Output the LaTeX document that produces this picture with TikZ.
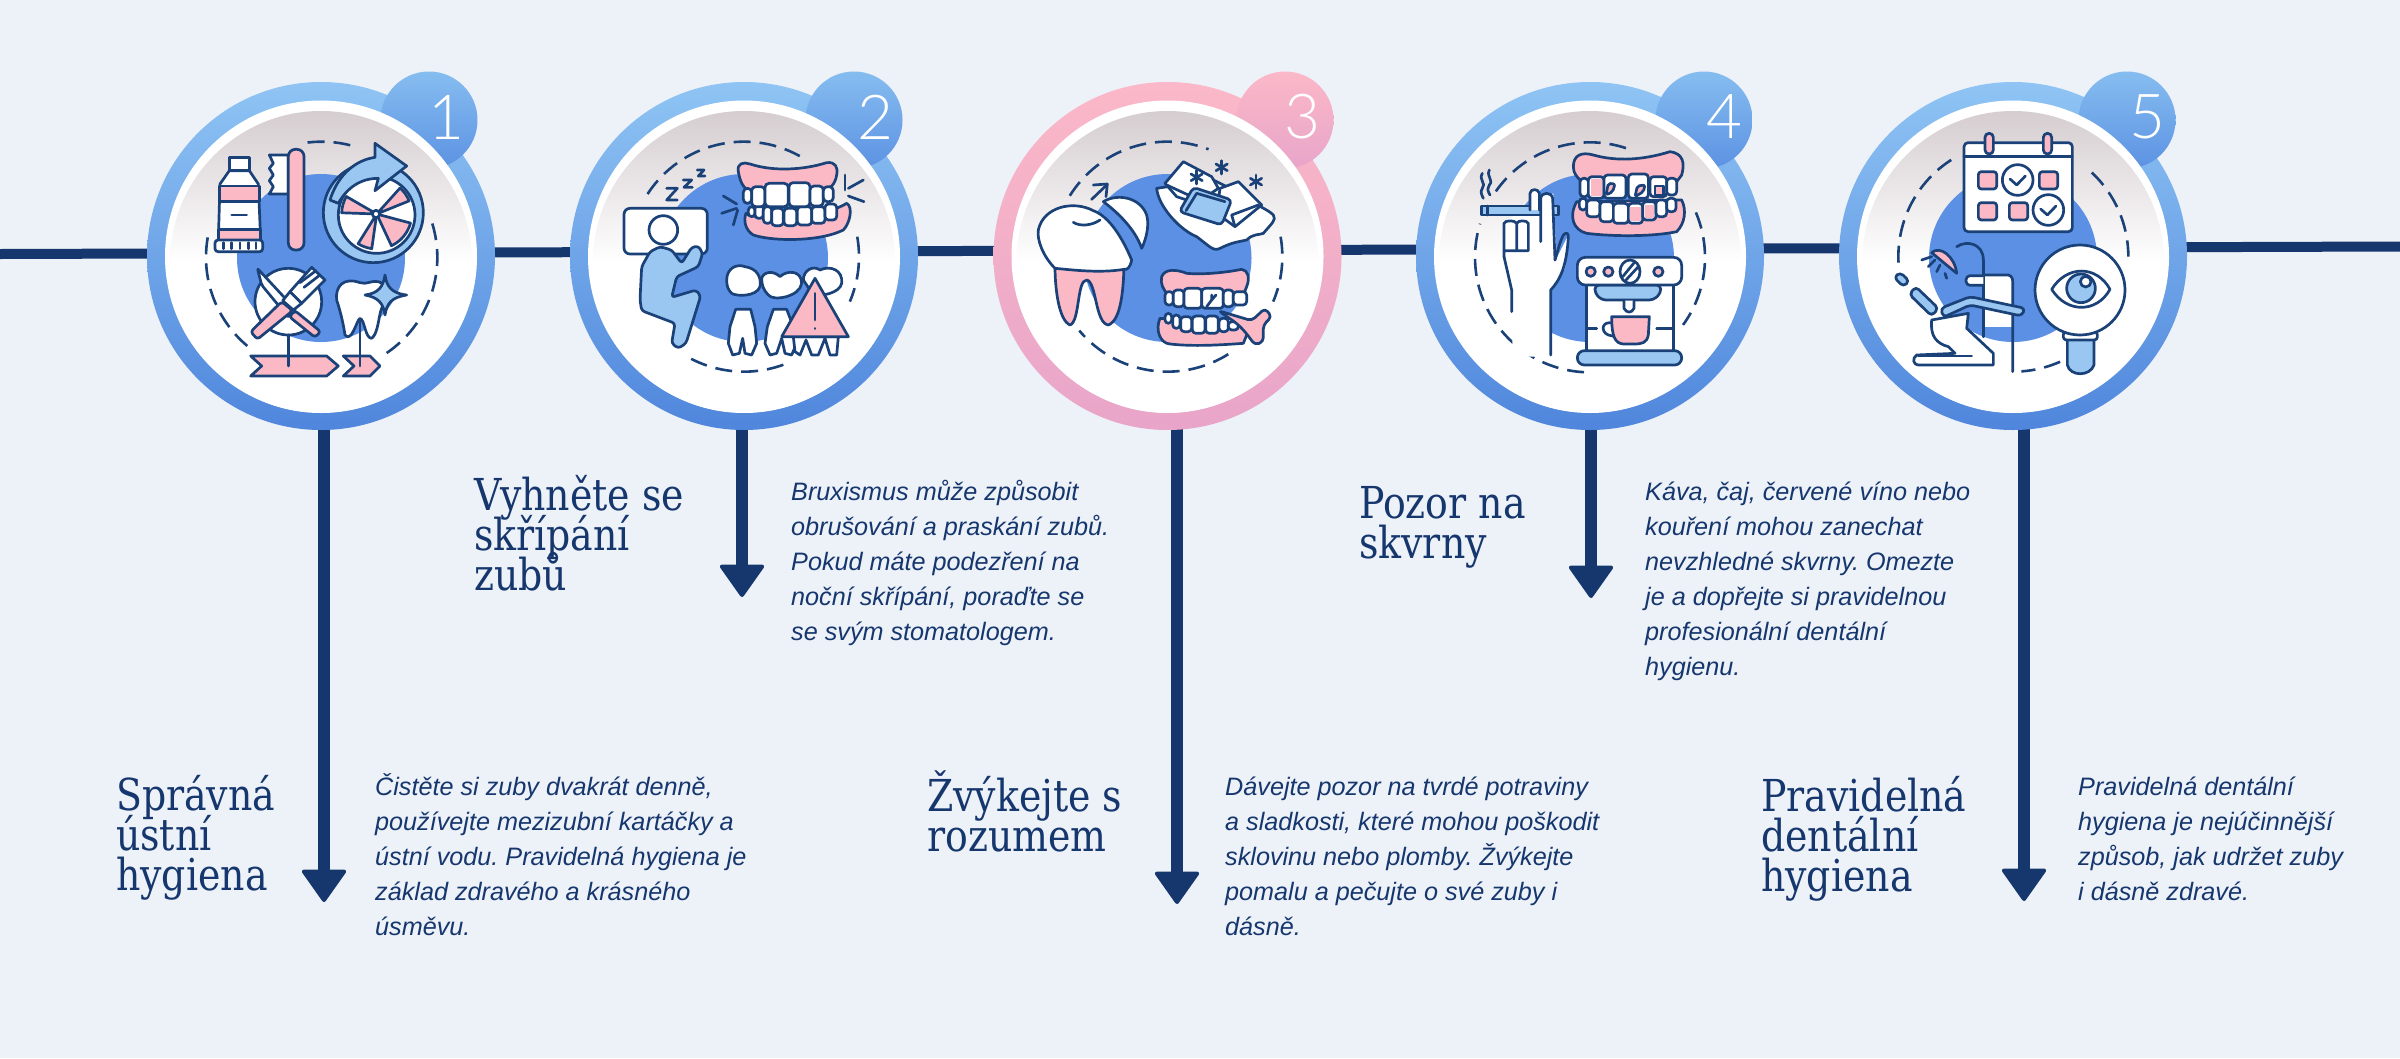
\documentclass[tikz,border=0pt]{standalone}
\usepackage{fontspec}
\usetikzlibrary{arrows.meta}
\newfontfamily\hdfont[FakeStretch=0.86]{DejaVu Serif}
\newfontfamily\bdfont{Liberation Sans}
\newfontfamily\numfont{Lato Light}
\lineskiplimit=-100pt
\definecolor{bg}{HTML}{EDF1F8}
\definecolor{navy}{HTML}{16376E}
\definecolor{ink}{HTML}{1B4278}
\definecolor{pnk}{HTML}{FBB9C5}
\definecolor{lbl}{HTML}{9AC7F2}
\definecolor{dsc}{HTML}{5B90E4}
\definecolor{rbtop}{HTML}{8FC4F4}
\definecolor{rbbot}{HTML}{4F86DC}
\definecolor{rptop}{HTML}{FBB8C8}
\definecolor{rpbot}{HTML}{E8A5C9}
\definecolor{bbtop}{HTML}{86BDF0}
\definecolor{bbbot}{HTML}{5C92E2}
\definecolor{grtop}{HTML}{D5CDD0}
\tikzset{
 ic/.style={draw=ink,line width=2.7pt,line join=round,line cap=round},
 wh/.style={ic,fill=white},
 pk/.style={ic,fill=pnk},
 lb/.style={ic,fill=lbl},
 dashring/.style={draw=ink,line width=2.6pt,dash pattern=on 17pt off 9pt},
 ringb/.style={circle,inner sep=0,minimum size=348pt,top color=rbtop,bottom color=rbbot,draw=none},
 ringp/.style={circle,inner sep=0,minimum size=348pt,top color=rptop,bottom color=rpbot,draw=none},
 badgeb/.style={circle,inner sep=0,minimum size=97pt,top color=bbtop,bottom color=bbbot,draw=none},
 badgep/.style={circle,inner sep=0,minimum size=97pt,top color=rptop,bottom color=rpbot,draw=none},
 inner/.style={circle,inner sep=0,minimum size=312pt,fill=white},
 innergr/.style={circle,inner sep=0,minimum size=302pt,top color=grtop,bottom color=white,middle color=white,draw=none},
 disc/.style={circle,inner sep=0,minimum size=168pt,fill=dsc},
 num/.style={text=white,font=\numfont\fontsize{62}{62}\selectfont,inner sep=0},
 hd/.style={text=navy,anchor=base west,align=left,inner sep=0,font=\hdfont\fontsize{44}{40}\selectfont},
 bd/.style={text=navy,anchor=base west,align=left,inner sep=0,font=\bdfont\itshape\frenchspacing\fontsize{25.2}{35}\selectfont},
 link/.style={draw=navy,line width=10pt},
 drop/.style={draw=navy,line width=12pt,-{Triangle[length=34pt,width=47pt,line width=4pt,round]}},
 crop/.style={x=0.33333pt,y=-0.33333pt},
}
\newcommand{\darc}[4]{\draw[dashring] (#1) ++(#2:#4) arc[start angle=#2,end angle=#3,radius=#4];}
\begin{document}
\begin{tikzpicture}[x=1pt,y=-1pt]
\useasboundingbox (0,0) rectangle (2400,1058);
\fill[bg] (0,0) rectangle (2400,1058);
% connectors
\coordinate (ll) at (0,254);
\coordinate (lr) at (2400,246.5);
\draw[link] (ll) -- (lr);
\foreach \i/\x/\t in {1/324/902,2/742/597,3/1177/904,4/1591/598,5/2024/901}{
 \coordinate (s\i) at (\x,400);
 \coordinate (t\i) at (\x,\t);
 \draw[drop] (s\i) -- (t\i);
}
% rings
\node[ringb] (c1) at (321,256) {};
\node[ringb] (c2) at (744,256) {};
\node[ringp] (c3) at (1167.5,256) {};
\node[ringb] (c4) at (1590,256) {};
\node[ringb] (c5) at (2013,256) {};
\node[badgeb] (d1) at (429,120) {};
\node[badgeb] (d2) at (854,120) {};
\node[badgep] (d3) at (1285,120) {};
\node[badgeb] (d4) at (1704,120) {};
\node[badgeb] (d5) at (2127,120) {};
\foreach \i/\x in {1/321,2/744,3/1167.5,4/1590,5/2013}{
 \node[inner] (w\i) at (\x,256.5) {};
 \node[innergr] (g\i) at (\x,262) {};
 \node[disc] (e\i) at (\x,258) {};
}
\node[num] (n1) at (446,117) {1};
\node[num] (n2) at (875,117) {2};
\node[num] (n3) at (1302,117) {3};
\node[num] (n4) at (1724,117) {4};
\node[num] (n5) at (2147,117) {5};

% ---------- icon 1
\begin{scope}[shift={(130,60)},crop]
\darc{575,592}{-97}{-75}{347}
\darc{575,592}{-17}{56}{347}
\darc{575,592}{130}{190}{347}
% tube
\draw[wh] (298,292) rectangle (358,332);
\draw[wh] (298,332) -- (270,372) -- (265,540) -- (392,540) -- (385,372) -- (358,332) -- cycle;
\draw[pk] (268,378) rectangle (388,425);
\draw[pk] (266,508) rectangle (391,540);
\draw[ic] (305,465) -- (350,465);
\draw[wh,rounded corners=3pt] (255,540) rectangle (398,575);
\foreach \x in {280,305,330,355,378}{\draw[ic] (\x,548) -- (\x,566);}
% brush
\draw[wh] (475,285) -- (418,285) -- (430,310) -- (418,325) -- (430,345) -- (418,362) -- (430,380) -- (418,402) -- (475,402) -- cycle;
\draw[pk,rounded corners=7pt] (475,268) rectangle (522,570);
% wheel
\draw[lb] (730,458) circle[radius=150];
\draw[wh] (740,465) circle[radius=115];
\foreach \a/\b in {-178/-150,-48/-22,15/65,98/122}{
 \draw[pk] (740,462) -- ++(\a:105) arc[start angle=\a,end angle=\b,radius=105] -- cycle;
}
\draw[wh] (738,462) circle[radius=11];
\draw[lb] (600,420) .. controls (625,340) and (680,300) .. (735,292) -- (735,250) -- (830,318) -- (735,392) -- (745,355) .. controls (690,355) and (650,385) .. (625,430) -- cycle;
% plate
\draw[wh] (475,725) circle[radius=100];
\draw[wh,rounded corners=2pt] (382,625) -- (498,750) -- (475,772) -- (395,675) -- cycle;
\draw[pk,rounded corners=3pt] (495,752) -- (572,815) -- (555,832) -- (478,770) -- cycle;
\draw[wh] (480,695) -- (545,622) -- (585,660) -- (515,730) -- cycle;
\draw[ic] (510,668) -- (558,632); \draw[ic] (522,682) -- (570,645);
\draw[wh] (480,695) -- (515,730) -- (490,750) -- (458,722) -- cycle;
\draw[pk,rounded corners=3pt] (455,725) -- (488,752) -- (382,838) -- (362,815) -- cycle;
% tooth
\draw[wh] (690,668) .. controls (640,650) and (615,680) .. (620,720) .. controls (630,750) and (640,790) .. (645,825) .. controls (665,850) and (680,780) .. (690,775) .. controls (705,780) and (705,835) .. (725,835) .. controls (745,820) and (745,770) .. (755,745) .. controls (775,710) and (770,670) .. (745,665) .. controls (725,660) and (710,675) .. (690,668) -- cycle;
\draw[lb] (765,645) .. controls (770,680) and (785,700) .. (830,705) .. controls (785,712) and (770,730) .. (765,765) .. controls (760,730) and (745,712) .. (705,705) .. controls (745,700) and (760,680) .. (765,645) -- cycle;
% ribbons
\draw[pk] (362,888) -- (590,888) -- (625,918) -- (590,948) -- (362,948) -- (395,918) -- cycle;
\draw[pk] (640,888) -- (720,888) -- (750,918) -- (720,948) -- (640,948) -- (672,918) -- cycle;
\draw[ic] (475,825) -- (475,918);
\draw[ic] (690,780) -- (690,918);
\end{scope}

% ---------- icon 2
\begin{scope}[shift={(560,60)},crop]
\darc{552,590}{-147}{-61}{345}
\darc{552,590}{-10}{23}{345}
\darc{552,590}{70}{118}{345}
\draw[wh,rounded corners=6pt] (192,445) rectangle (442,582);
\draw[lb,rounded corners=3pt] (270,575) -- (300,560) -- (335,570) -- (365,610) -- (395,562) -- (415,558) -- (428,580) -- (415,620) -- (350,650) -- (335,712) -- (408,690) -- (422,708) -- (378,850) -- (355,865) -- (335,850) -- (345,790) -- (245,752) -- (240,720) -- (245,620) -- cycle;
\draw[wh] (310,510) circle[radius=43];
\draw[ic] (320,385) -- (352,385) -- (320,420) -- (352,420);
\draw[ic] (370,360) -- (395,360) -- (372,382) -- (397,382);
\draw[ic] (412,330) -- (432,330) -- (415,348) -- (435,348);
% gums
\draw[pk] (535,335) .. controls (530,310) and (550,305) .. (570,312) .. controls (640,335) and (730,330) .. (800,308) .. controls (825,305) and (835,320) .. (830,345) .. controls (825,375) and (810,385) .. (790,395) -- (570,395) .. controls (550,385) and (540,365) .. (535,335) -- cycle;
\draw[pk] (558,460) .. controls (570,480) and (780,480) .. (860,430) .. controls (880,440) and (870,490) .. (850,510) .. controls (780,545) and (640,545) .. (580,525) .. controls (555,510) and (550,480) .. (558,460) -- cycle;
\foreach \a/\b/\c/\d in {565/440/585/470,585/435/610/475,610/440/635/490,635/445/670/497,672/445/710/497,712/440/755/495,755/440/795/490,795/432/830/480}{
  \draw[wh,rounded corners=3.5pt] (\a,\b) rectangle (\c,\d);}
\foreach \a/\b/\c/\d in {550/385/575/430,575/380/615/440,615/370/685/440,687/368/750/440,750/378/790/438,790/380/820/425}{
  \draw[wh,rounded corners=4pt] (\a,\b) rectangle (\c,\d);}
\draw[ic] (855,345) -- (855,390); \draw[ic] (865,385) -- (910,360); \draw[ic] (865,408) -- (912,425);
\draw[ic] (490,408) -- (530,432); \draw[ic] (485,460) -- (530,445); \draw[ic] (520,495) -- (533,450);
% lower teeth
\draw[wh] (500,660) .. controls (500,625) and (530,610) .. (555,620) .. controls (590,625) and (605,650) .. (600,680) .. controls (590,710) and (530,710) .. (515,700) .. controls (505,690) and (500,680) .. (500,660) -- cycle;
\draw[wh] (730,660) .. controls (730,630) and (760,615) .. (780,630) .. controls (810,615) and (850,630) .. (845,670) .. controls (840,700) and (780,710) .. (760,705) -- cycle;
\draw[wh] (605,655) .. controls (610,635) and (640,630) .. (660,650) .. controls (680,630) and (725,630) .. (725,670) .. controls (720,710) and (640,725) .. (625,705) .. controls (610,690) and (605,675) .. (605,655) -- cycle;
\draw[wh] (527,748) -- (572,748) -- (585,800) -- (590,850) -- (575,885) -- (555,880) -- (548,835) -- (538,880) -- (518,885) -- (505,850) -- (510,800) -- cycle;
\draw[wh] (640,748) -- (680,748) -- (700,800) -- (710,850) -- (695,885) -- (675,880) -- (665,835) -- (650,880) -- (630,885) -- (615,850) -- (622,800) -- cycle;
\draw[wh] (700,830) -- (835,830) -- (830,885) -- (810,885) -- (795,835) -- (775,885) -- (755,885) -- (738,840) -- (720,885) -- (705,875) -- cycle;
\draw[pk] (765,655) -- (865,830) -- (665,830) -- cycle;
\draw[ic] (765,700) -- (765,780); \draw[ic] (765,805) -- (765,806);
\end{scope}

% ---------- icon 3
\begin{scope}[shift={(980,60)},crop]
\darc{562,590}{-148}{-69}{345}
\darc{562,590}{-10}{23}{345}
\darc{562,590}{58}{140}{345}
\draw[ic] (335,418) -- (380,375); \draw[ic] (340,375) -- (382,372) -- (378,410);
\draw[wh] (370,425) .. controls (410,400) and (480,410) .. (500,465) .. controls (510,500) and (495,545) .. (485,565) .. controls (470,520) and (430,470) .. (370,425) -- cycle;
\draw[pk] (225,620) .. controls (225,680) and (235,780) .. (270,795) .. controls (300,785) and (290,660) .. (320,660) .. controls (350,665) and (345,790) .. (385,795) .. controls (425,780) and (430,680) .. (432,620) -- cycle;
\draw[wh] (225,625) .. controls (190,590) and (170,540) .. (175,510) .. controls (190,440) and (280,420) .. (340,452) .. controls (390,470) and (430,540) .. (455,600) .. controls (450,625) and (440,630) .. (432,628) .. controls (360,640) and (280,630) .. (225,625) -- cycle;
\draw[ic] (280,487) .. controls (300,500) and (335,497) .. (360,480);
% ice
\draw[wh] (530,385) .. controls (535,440) and (600,510) .. (650,530) .. controls (690,560) and (700,575) .. (720,565) .. controls (760,545) and (780,545) .. (800,540) .. controls (820,520) and (840,525) .. (850,520) .. controls (875,490) and (890,480) .. (880,465) .. controls (860,445) and (830,440) .. (820,420) -- (700,360) -- cycle;
\draw[wh] (555,370) -- (610,305) -- (695,350) -- (715,385) -- (650,430) -- (590,410) -- cycle;
\draw[ic] (560,375) -- (625,405);
\draw[wh] (720,385) -- (775,365) -- (845,435) -- (765,500) -- (710,460) -- cycle;
\draw[ic] (765,500) -- (755,465) -- (835,435);
\draw[lb,rounded corners=4pt] (640,382) -- (755,420) -- (725,495) -- (598,455) -- cycle;
\draw[ic] (618,452) -- (650,400) -- (735,425);
\foreach \cx/\cy in {725/322,828/365,650/352}{
 \draw[ic] (\cx,\cy-20) -- (\cx,\cy+20);
 \draw[ic] (\cx-17,\cy-10) -- (\cx+17,\cy+10);
 \draw[ic] (\cx-17,\cy+10) -- (\cx+17,\cy-10);
}
% jaw
\draw[pk] (545,650) .. controls (555,625) and (590,628) .. (620,640) .. controls (680,645) and (750,635) .. (785,628) .. controls (805,630) and (810,655) .. (800,680) -- (790,705) -- (565,705) .. controls (550,690) and (540,670) .. (545,650) -- cycle;
\foreach \a/\b/\c/\d in {555/695/580/735,580/690/612/740,612/685/665/745,665/685/730/745,730/690/760/740,760/695/800/735}{
 \draw[wh,rounded corners=3.5pt] (\a,\b) rectangle (\c,\d);}
\draw[ic] (695,705) -- (695,720) -- (708,705); \draw[ic] (695,720) -- (680,740);
\draw[pk] (540,775) .. controls (525,810) and (540,850) .. (570,852) .. controls (640,860) and (720,855) .. (790,850) -- (810,800) -- cycle;
\foreach \a/\b/\c/\d in {555/760/575/790,578/765/600/805,602/770/635/815,637/768/675/820,677/768/715/820,717/775/745/815,745/785/775/810}{
 \draw[wh,rounded corners=3.5pt] (\a,\b) rectangle (\c,\d);}
\draw[pk,rounded corners=4pt] (715,752) -- (815,782) -- (855,745) -- (875,770) -- (850,795) -- (850,845) -- (825,855) -- (795,815) -- (770,790) -- cycle;
\end{scope}

% ---------- icon 4
\begin{scope}[shift={(1400,60)},crop]
\darc{570,592}{-145}{-71}{345}
\darc{570,592}{-23}{36}{345}
\darc{570,592}{93}{197}{345}
% smoke
\draw[ic] (247,340) .. controls (235,360) and (260,370) .. (247,385) .. controls (240,395) and (245,405) .. (250,415);
\draw[ic] (268,330) .. controls (258,350) and (282,360) .. (268,375) .. controls (260,390) and (265,395) .. (270,405);
% hand
\fill[white] (314,490) -- (314,590) -- (337,690) -- (337,890) -- (450,890) -- (450,690) -- (495,625) -- (505,525) -- (470,595) -- (460,400) -- (320,480) -- cycle;
\draw[ic] (312,590) -- (335,690) -- (335,755);
\draw[ic] (452,885) -- (452,690) .. controls (480,660) and (500,620) .. (505,530) .. controls (505,520) and (500,515) .. (490,525) .. controls (480,545) and (475,565) .. (465,600);
\draw[ic] (312,590) -- (312,490) .. controls (315,480) and (345,480) .. (350,490) -- (350,572) -- (312,572);
\draw[ic] (350,490) .. controls (355,480) and (380,480) .. (385,490) -- (385,572) -- (350,572);
\draw[lb] (245,438) rectangle (475,465);
\draw[ic] (262,438) -- (262,465);
\draw[wh] (390,450) -- (390,400) .. controls (392,385) and (415,385) .. (418,400) -- (418,450);
\draw[wh] (422,545) -- (422,415) .. controls (425,395) and (455,395) .. (458,415) -- (465,600);
% gums 
\draw[pk] (520,320) .. controls (520,285) and (545,275) .. (580,285) .. controls (650,305) and (730,300) .. (810,275) .. controls (850,280) and (855,310) .. (845,345) -- (830,365) -- (545,365) .. controls (530,350) and (520,340) .. (520,320) -- cycle;
\draw[pk] (530,425) .. controls (505,470) and (520,510) .. (560,520) .. controls (640,530) and (760,530) .. (830,515) .. controls (855,490) and (860,450) .. (845,420) -- cycle;
\foreach \a/\b/\c/\d in {540/355/565/410,565/350/612/415,612/345/678/415,685/342/745/415,750/350/800/410,800/355/830/405}{
 \draw[wh,rounded corners=3.5pt] (\a,\b) rectangle (\c,\d);}
\fill[pnk] (572,358) rectangle (606,408);
\draw[pk,rounded corners=2pt] (625,370) -- (645,372) -- (638,395) -- (618,405) -- cycle;
\draw[pk,rounded corners=2pt] (712,378) -- (735,375) -- (730,395) -- (705,410) -- cycle;
\draw[pk] (765,378) rectangle (790,405);
\foreach \a/\b/\c/\d in {538/415/560/450,560/420/600/470,600/425/640/485,640/430/685/490,685/430/728/490,728/425/768/480,768/420/800/470,800/415/828/455}{
 \draw[wh,rounded corners=3.5pt] (\a,\b) rectangle (\c,\d);}
\fill[pnk] (690,440) rectangle (722,484);
\fill[pnk] (735,435) rectangle (762,475);
% machine
\draw[wh] (560,675) rectangle (820,875);
\draw[lb,rounded corners=4pt] (585,675) -- (585,700) -- (605,720) -- (760,720) -- (782,700) -- (782,675) -- cycle;
\draw[wh,rounded corners=8pt] (532,592) rectangle (845,675);
\foreach \x in {572,625,775}{\draw[pk] (\x,635) circle[radius=14];}
\draw[wh] (690,635) ellipse[x radius=30,y radius=35];
\draw[ic] (668,650) -- (705,605); \draw[ic] (678,660) -- (715,620);
\draw[wh] (672,722) -- (672,745) .. controls (680,760) and (695,760) .. (702,745) -- (702,722);
\draw[ic] (560,805) -- (590,805); \draw[ic] (770,805) -- (815,805);
\draw[ic] (640,790) .. controls (605,780) and (600,815) .. (625,825) -- (645,830);
\draw[pk] (635,770) -- (748,770) -- (745,825) .. controls (740,850) and (725,852) .. (700,852) -- (670,852) .. controls (645,850) and (635,830) .. (635,770) -- cycle;
\draw[lb,rounded corners=7pt] (532,872) rectangle (845,915);
\end{scope}

% ---------- icon 5
\begin{scope}[shift={(1820,60)},crop]
\darc{580,590}{177}{238}{345}
\darc{580,590}{-47}{0}{345}
\darc{580,590}{66}{86}{345}
\draw[wh,rounded corners=4pt] (432,248) rectangle (757,515);
\draw[ic] (432,290) -- (757,290);
\draw[pk,rounded corners=4pt] (495,220) rectangle (520,282);
\draw[pk,rounded corners=4pt] (670,220) rectangle (695,282);
\foreach \a/\b in {475/335,658/335,475/428,568/428}{\draw[pk,rounded corners=3pt] (\a,\b) rectangle ++(55,52);}
\foreach \cx/\cy in {593/360,685/450}{
 \draw[wh] (\cx,\cy) circle[radius=46];
 \draw[ic] (\cx-23,\cy-3) -- (\cx-3,\cy+15) -- (\cx+23,\cy-12);
}
% chair
\draw[ic] (410,560) .. controls (440,540) and (490,550) .. (490,600) -- (490,830);
\fill[white] (492,648) rectangle (575,800);
\draw[ic] (490,645) -- (565,645) .. controls (575,648) and (578,655) .. (578,665) -- (578,935);
\draw[ic] (490,600) -- (490,830);
\draw[wh,rounded corners=4pt] (490,647) -- (438,647) -- (438,676) -- (490,676);
\draw[pk] (335,578) .. controls (360,555) and (405,590) .. (410,640) -- cycle;
\draw[ic] (305,600) -- (335,590); \draw[ic] (325,620) -- (345,600); \draw[ic] (350,635) -- (360,615); \draw[ic] (380,655) -- (375,640);
\draw[lb,rounded corners=4pt] (240,637) -- (268,663) -- (250,680) -- (222,652) -- cycle;
\draw[lb,rounded corners=4pt] (287,680) -- (355,745) -- (335,768) -- (268,703) -- cycle;
\draw[wh] (335,780) .. controls (330,830) and (350,850) .. (385,860) -- (405,880) -- (290,885) .. controls (275,895) and (280,915) .. (295,915) -- (520,915) -- (520,880) -- (440,805) -- (445,760) -- cycle;
\draw[ic] (295,888) -- (455,888);
\draw[lb,rounded corners=4pt] (362,745) -- (450,710) -- (615,745) -- (605,768) -- (450,735) -- (370,772) -- cycle;
% lens
\draw[lb] (742,830) -- (742,915) .. controls (750,950) and (810,950) .. (822,915) -- (822,830) -- cycle;
\draw[wh,rounded corners=3pt] (730,815) rectangle (832,840);
\draw[wh] (780,690) circle[radius=135];
\draw[wh] (695,688) .. controls (740,615) and (830,615) .. (870,688) .. controls (830,760) and (740,760) .. (695,688) -- cycle;
\draw[lb] (783,685) circle[radius=43];
\draw[wh] (797,665) circle[radius=16];
\end{scope}

% ---------- text (anchored on the baseline of the last line)
\node[hd] (h1) at (116,890) {Správná\\ústní\\hygiena};
\node[hd] (h2) at (474,590) {Vyhněte se\\skřípání\\zubů};
\node[hd] (h3) at (927,851) {Žvýkejte s\\rozumem};
\node[hd] (h4) at (1359,558) {Pozor na\\skvrny};
\node[hd] (h5) at (1761,891) {Pravidelná\\dentální\\hygiena};
\node[bd] (b1) at (375,935) {Čistěte si zuby dvakrát denně,\\používejte mezizubní kartáčky a\\ústní vodu. Pravidelná hygiena je\\základ zdravého a krásného\\úsměvu.};
\node[bd] (b2) at (791,640) {Bruxismus může způsobit\\obrušování a praskání zubů.\\Pokud máte podezření na\\noční skřípání, poraďte se\\se svým stomatologem.};
\node[bd] (b3) at (1225,935) {Dávejte pozor na tvrdé potraviny\\a sladkosti, které mohou poškodit\\sklovinu nebo plomby. Žvýkejte\\pomalu a pečujte o své zuby i\\dásně.};
\node[bd] (b4) at (1645,675) {Káva, čaj, červené víno nebo\\kouření mohou zanechat\\nevzhledné skvrny. Omezte\\je a dopřejte si pravidelnou\\profesionální dentální\\hygienu.};
\node[bd] (b5) at (2078,900) {Pravidelná dentální\\hygiena je nejúčinnější\\způsob, jak udržet zuby\\i dásně zdravé.};
\end{tikzpicture}
\end{document}
